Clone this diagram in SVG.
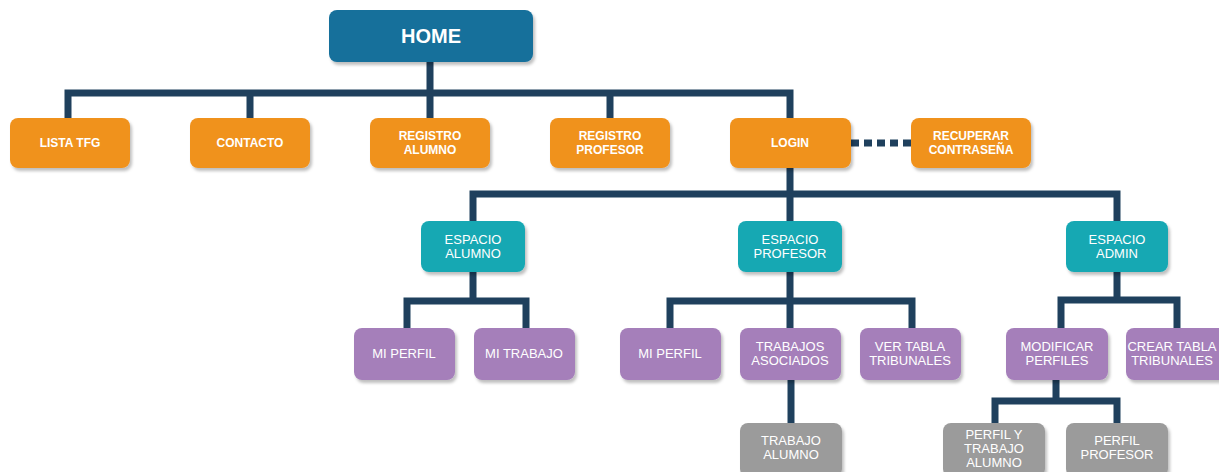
<svg xmlns="http://www.w3.org/2000/svg" width="1219" height="472" viewBox="0 0 1219 472">
  <defs>
    <filter id="shadow" x="-10%" y="-10%" width="130%" height="140%">
      <feDropShadow dx="2" dy="3" stdDeviation="1.5" flood-color="#000" flood-opacity="0.25"/>
    </filter>
  </defs>
  <style>
    .box { filter: url(#shadow); }
    .home { fill: #146f9b; }
    .main { fill: #f0921e; }
    .space { fill: #19a8b3; }
    .sub { fill: #a57fba; }
    .leaf { fill: #9b9b9b; }
    .wire { fill: none; stroke: #1f405d; stroke-width: 7; stroke-linejoin: miter; stroke-linecap: butt; }
    .dots { fill: none; stroke: #1f405d; stroke-width: 7; stroke-dasharray: 8 5; }
    text { font-family: "Liberation Sans", Arial, sans-serif; fill: #ffffff; text-anchor: middle; }
    .t-home { font-size: 20px; font-weight: bold; }
    .t-bold { font-size: 12px; font-weight: bold; }
    .t-norm { font-size: 13px; }
  </style>

  <!-- connectors -->
  <g id="connectors">
    <!-- home to first level -->
    <path class="wire" d="M430 62 V93 M68 122 V93 H790 V122 M250 93 V122 M430 93 V122 M610 93 V122"/>
    <!-- login to recovery (dotted) -->
    <path class="dots" d="M851 143 H911"/>
    <!-- login to spaces -->
    <path class="wire" d="M790 168 V194 M473 224 V194 H1117 V224 M790 194 V224"/>
    <!-- espacio alumno -->
    <path class="wire" d="M473 272 V301 M407 331 V301 H526 V331"/>
    <!-- espacio profesor -->
    <path class="wire" d="M790 272 V301 M670 331 V301 H912 V331 M790 301 V331"/>
    <!-- espacio admin -->
    <path class="wire" d="M1117 272 V300 M1061 331 V300 H1177 V331"/>
    <!-- trabajos asociados -->
    <path class="wire" d="M791 380 V426"/>
    <!-- modificar perfiles -->
    <path class="wire" d="M1056 380 V401 M995 426 V401 H1117 V426"/>
  </g>

  <g id="home">
    <rect class="box home" x="329" y="10" width="204" height="52" rx="8"/>
    <text class="t-home" x="431" y="43">HOME</text>
  </g>

  <g id="lista-tfg">
    <rect class="box main" x="10" y="118" width="120" height="50" rx="8"/>
    <text class="t-bold" x="70" y="147">LISTA TFG</text>
  </g>
  <g id="contacto">
    <rect class="box main" x="190" y="118" width="120" height="50" rx="8"/>
    <text class="t-bold" x="250" y="147">CONTACTO</text>
  </g>
  <g id="registro-alumno">
    <rect class="box main" x="370" y="118" width="120" height="50" rx="8"/>
    <text class="t-bold" x="430" y="140">REGISTRO</text>
    <text class="t-bold" x="430" y="154">ALUMNO</text>
  </g>
  <g id="registro-profesor">
    <rect class="box main" x="550" y="118" width="120" height="50" rx="8"/>
    <text class="t-bold" x="610" y="140">REGISTRO</text>
    <text class="t-bold" x="610" y="154">PROFESOR</text>
  </g>
  <g id="login">
    <rect class="box main" x="730" y="118" width="121" height="50" rx="8"/>
    <text class="t-bold" x="790" y="147">LOGIN</text>
  </g>
  <g id="recuperar">
    <rect class="box main" x="911" y="118" width="120" height="50" rx="8"/>
    <text class="t-bold" x="971" y="140">RECUPERAR</text>
    <text class="t-bold" x="971" y="154">CONTRASEÑA</text>
  </g>

  <g id="espacio-alumno">
    <rect class="box space" x="421" y="221" width="104" height="51" rx="8"/>
    <text class="t-norm" x="473" y="244">ESPACIO</text>
    <text class="t-norm" x="473" y="258">ALUMNO</text>
  </g>
  <g id="espacio-profesor">
    <rect class="box space" x="738" y="221" width="104" height="51" rx="8"/>
    <text class="t-norm" x="790" y="244">ESPACIO</text>
    <text class="t-norm" x="790" y="258">PROFESOR</text>
  </g>
  <g id="espacio-admin">
    <rect class="box space" x="1066" y="221" width="102" height="51" rx="8"/>
    <text class="t-norm" x="1117" y="244">ESPACIO</text>
    <text class="t-norm" x="1117" y="258">ADMIN</text>
  </g>

  <g id="mi-perfil-alumno">
    <rect class="box sub" x="354" y="328" width="101" height="52" rx="8"/>
    <text class="t-norm" x="404" y="358">MI PERFIL</text>
  </g>
  <g id="mi-trabajo">
    <rect class="box sub" x="474" y="328" width="101" height="52" rx="8"/>
    <text class="t-norm" x="524" y="358">MI TRABAJO</text>
  </g>
  <g id="mi-perfil-profesor">
    <rect class="box sub" x="620" y="328" width="101" height="52" rx="8"/>
    <text class="t-norm" x="670" y="358">MI PERFIL</text>
  </g>
  <g id="trabajos-asociados">
    <rect class="box sub" x="740" y="328" width="101" height="52" rx="8"/>
    <text class="t-norm" x="790" y="351">TRABAJOS</text>
    <text class="t-norm" x="790" y="365">ASOCIADOS</text>
  </g>
  <g id="ver-tabla">
    <rect class="box sub" x="860" y="328" width="101" height="52" rx="8"/>
    <text class="t-norm" x="910" y="351">VER TABLA</text>
    <text class="t-norm" x="910" y="365">TRIBUNALES</text>
  </g>
  <g id="modificar-perfiles">
    <rect class="box sub" x="1006" y="328" width="102" height="52" rx="8"/>
    <text class="t-norm" x="1057" y="351">MODIFICAR</text>
    <text class="t-norm" x="1057" y="365">PERFILES</text>
  </g>
  <g id="crear-tabla">
    <rect class="box sub" x="1126" y="328" width="102" height="52" rx="8"/>
    <text class="t-norm" x="1172" y="351">CREAR TABLA</text>
    <text class="t-norm" x="1172" y="365">TRIBUNALES</text>
  </g>

  <g id="trabajo-alumno">
    <rect class="box leaf" x="740" y="423" width="102" height="54" rx="8"/>
    <text class="t-norm" x="791" y="445">TRABAJO</text>
    <text class="t-norm" x="791" y="459">ALUMNO</text>
  </g>
  <g id="perfil-trabajo-alumno">
    <rect class="box leaf" x="943" y="423" width="102" height="54" rx="8"/>
    <text class="t-norm" x="994" y="439">PERFIL Y</text>
    <text class="t-norm" x="994" y="453">TRABAJO</text>
    <text class="t-norm" x="994" y="467">ALUMNO</text>
  </g>
  <g id="perfil-profesor">
    <rect class="box leaf" x="1066" y="423" width="102" height="54" rx="8"/>
    <text class="t-norm" x="1117" y="445">PERFIL</text>
    <text class="t-norm" x="1117" y="459">PROFESOR</text>
  </g>
</svg>
